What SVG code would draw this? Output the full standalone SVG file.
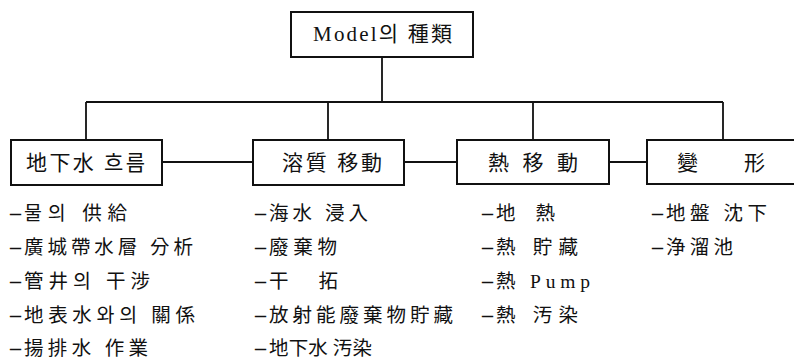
<svg xmlns="http://www.w3.org/2000/svg" width="794" height="360" viewBox="0 0 794 360">
<style>
.box{fill:#fff;stroke:#111;stroke-width:2}
.ln{fill:none;stroke:#111;stroke-width:1.8}
text{font-family:"Liberation Serif","Noto Sans CJK KR",serif;fill:#111}
.t{font-size:21px}
.l{font-size:19.5px}
.d{font-family:"Liberation Serif",serif;font-size:22px;font-weight:bold}
</style>
<rect width="794" height="360" fill="#fff"/>
<g id="connectors">
<path class="ln" d="M382 57V102M86 102H723M86 102V140M328 102V140M533 102V140M723 102V140"/>
<path class="ln" d="M162 162H253M404 162H457M609 162H647"/>
</g>
<g id="root">
<rect class="box" x="291" y="12" width="182" height="45"/>
<text class="t" x="313" y="41" textLength="139" lengthAdjust="spacing">Model의 種類</text>
</g>
<g id="n1">
<rect class="box" x="11" y="140" width="151" height="45"/>
<text class="t" x="26" y="170" textLength="119" lengthAdjust="spacing">地下水 흐름</text>
</g>
<g id="n2">
<rect class="box" x="253" y="140" width="151" height="45"/>
<text class="t" x="282" y="170" textLength="100" lengthAdjust="spacing">溶質 移動</text>
</g>
<g id="n3">
<rect class="box" x="457" y="140" width="152" height="44"/>
<text class="t" x="488" y="170" textLength="90" lengthAdjust="spacing">熱 移 動</text>
</g>
<g id="n4">
<rect class="box" x="647" y="140" width="160" height="44"/>
<text class="t" x="677" y="170" textLength="88" lengthAdjust="spacing">變　形</text>
</g>
<g id="list1">
<text class="l" x="10" y="220"><tspan class="d">–</tspan><tspan x="24" textLength="103" lengthAdjust="spacing">물의 供給</tspan></text>
<text class="l" x="10" y="254"><tspan class="d">–</tspan><tspan x="24" textLength="169" lengthAdjust="spacing">廣城帶水層 分析</tspan></text>
<text class="l" x="10" y="288"><tspan class="d">–</tspan><tspan x="24" textLength="126" lengthAdjust="spacing">管井의 干涉</tspan></text>
<text class="l" x="10" y="322"><tspan class="d">–</tspan><tspan x="24" textLength="171" lengthAdjust="spacing">地表水와의 關係</tspan></text>
<text class="l" x="10" y="355"><tspan class="d">–</tspan><tspan x="24" textLength="124" lengthAdjust="spacing">揚排水 作業</tspan></text>
</g>
<g id="list2">
<text class="l" x="255" y="220"><tspan class="d">–</tspan><tspan x="269" textLength="99" lengthAdjust="spacing">海水 浸入</tspan></text>
<text class="l" x="255" y="254"><tspan class="d">–</tspan><tspan x="269" textLength="68" lengthAdjust="spacing">廢棄物</tspan></text>
<text class="l" x="255" y="288"><tspan class="d">–</tspan><tspan x="269" textLength="69" lengthAdjust="spacing">干　拓</tspan></text>
<text class="l" x="255" y="322"><tspan class="d">–</tspan><tspan x="269" textLength="184" lengthAdjust="spacing">放射能廢棄物貯藏</tspan></text>
<text class="l" x="255" y="355"><tspan class="d">–</tspan><tspan x="269" textLength="103" lengthAdjust="spacing">地下水 汚染</tspan></text>
</g>
<g id="list3">
<text class="l" x="482" y="220"><tspan class="d">–</tspan><tspan x="496" textLength="59" lengthAdjust="spacing">地 熱</tspan></text>
<text class="l" x="482" y="254"><tspan class="d">–</tspan><tspan x="496" textLength="82" lengthAdjust="spacing">熱 貯藏</tspan></text>
<text class="l" x="482" y="288"><tspan class="d">–</tspan><tspan x="496" textLength="94" lengthAdjust="spacing">熱 Pump</tspan></text>
<text class="l" x="482" y="322"><tspan class="d">–</tspan><tspan x="496" textLength="82" lengthAdjust="spacing">熱 汚染</tspan></text>
</g>
<g id="list4">
<text class="l" x="652" y="220"><tspan class="d">–</tspan><tspan x="666" textLength="101" lengthAdjust="spacing">地盤 沈下</tspan></text>
<text class="l" x="652" y="254"><tspan class="d">–</tspan><tspan x="666" textLength="67" lengthAdjust="spacing">浄溜池</tspan></text>
</g>
</svg>
